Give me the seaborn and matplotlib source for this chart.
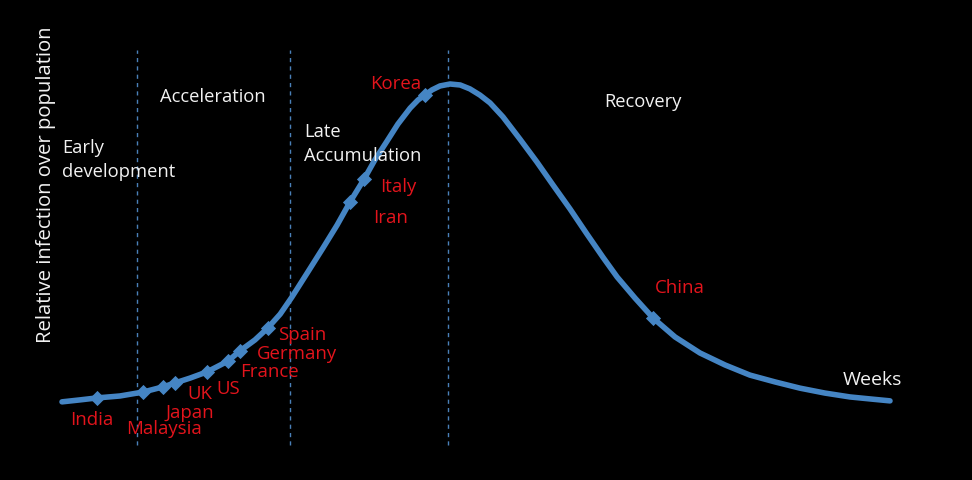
import matplotlib
matplotlib.use("Agg")
import matplotlib.pyplot as plt
import seaborn as sns
import pandas as pd

# Curve readings (weeks, relative infection)
weeks = [0.00, 0.50, 0.97, 1.61, 2.25, 2.81, 3.14, 3.56, 4.03, 4.61, 4.94, 5.36,
         5.72, 6.06, 6.39, 6.81, 7.25, 7.64, 8.00, 8.39, 8.69, 9.03, 9.33, 9.67,
         9.89, 10.08, 10.28, 10.50, 10.78, 11.06, 11.33, 11.61, 11.89, 12.25,
         12.72, 13.19, 13.64, 14.11, 14.58, 15.03, 15.42, 15.92, 16.42, 17.03,
         17.72, 18.42, 19.11, 19.81, 20.50, 21.19, 21.89, 22.44, 23.00]
infection = [0.025, 0.031, 0.037, 0.043, 0.055, 0.071, 0.083, 0.098, 0.117, 0.150,
             0.181, 0.215, 0.252, 0.294, 0.347, 0.420, 0.497, 0.567, 0.638, 0.708,
             0.767, 0.825, 0.877, 0.926, 0.951, 0.966, 0.982, 0.994, 1.000, 0.997,
             0.985, 0.966, 0.942, 0.899, 0.831, 0.761, 0.690, 0.617, 0.540, 0.468,
             0.408, 0.343, 0.282, 0.224, 0.175, 0.138, 0.107, 0.086, 0.067, 0.052,
             0.040, 0.034, 0.028]

# Countries on the curve
countries = ["India", "Malaysia", "Japan", "UK", "US", "France", "Germany", "Spain",
             "Iran", "Italy", "Korea", "China"]
country_weeks = [0.97, 2.25, 2.81, 3.14, 4.03, 4.61, 4.94, 5.72, 8.00, 8.39, 10.08, 16.42]
country_vals = [0.037, 0.055, 0.071, 0.083, 0.117, 0.150, 0.181, 0.252, 0.638, 0.708, 0.966, 0.282]

# Phase boundaries (weeks)
phase_bounds = [2.08, 6.33, 10.72]
phase_labels = ["Early\ndevelopment", "Acceleration", "Late\nAccumulation", "Recovery"]

curve = pd.DataFrame({"week": weeks, "infection": infection})
pts = pd.DataFrame({"country": countries, "week": country_weeks, "infection": country_vals})

sns.set_style("dark")
plt.rcParams["font.family"] = ["Open Sans", "DejaVu Sans"]

fig = plt.figure(figsize=(9.72, 4.8), dpi=100, facecolor="black")
ax = fig.add_axes([0, 0, 1, 1])
ax.set_facecolor("black")

BLUE = "#4585c4"
RED = "#e3141c"

for b in phase_bounds:
    ax.vlines(b, -0.107, 1.104, colors="#4a80b8", linestyles=(0, (3, 3)), linewidth=1.0)

sns.lineplot(data=curve, x="week", y="infection", ax=ax, color=BLUE, linewidth=4.0,
             solid_capstyle="round", solid_joinstyle="round", sort=False, estimator=None)
sns.scatterplot(data=pts, x="week", y="infection", ax=ax, color=BLUE, marker="D",
                s=60, edgecolor=BLUE, linewidth=0, zorder=5)

# label offsets in pixels (dx, dy) relative to markers
offsets = {"India": (-5, -22), "Malaysia": (21, -37), "Japan": (27, -26), "UK": (25, -11),
           "US": (21, -17), "France": (41, -11), "Germany": (57, -3), "Spain": (34, -7),
           "Iran": (41, -16), "Italy": (34, -8), "Korea": (-29, 11), "China": (27, 30)}
for c, wx, vy in zip(countries, country_weeks, country_vals):
    dx, dy = offsets[c]
    ax.annotate(c, (wx, vy), xytext=(dx, dy), textcoords="offset pixels",
                ha="center", va="center", color=RED, fontsize=13.4, zorder=6)

txt = dict(color="#f2f2f2", fontsize=13.2, va="center", ha="left", linespacing=1.45)
ax.text(0.0, 0.767, phase_labels[0], **txt)
ax.text(2.72, 0.960, phase_labels[1], **txt)
ax.text(6.72, 0.816, phase_labels[2], **txt)
ax.text(15.06, 0.945, phase_labels[3], **txt)
ax.text(21.69, 0.092, "Weeks", color="#f2f2f2", fontsize=14, va="center", ha="left")
ax.text(-0.44, 0.690, "Relative infection over population", color="#f2f2f2",
        fontsize=14.6, rotation=90, va="center", ha="center")

ax.set_xlim(-62 / 36, (972 - 62) / 36)
ax.set_ylim(-70 / 326, 410 / 326)
ax.set_xticks([])
ax.set_yticks([])
ax.set_xlabel("")
ax.set_ylabel("")
for s in ax.spines.values():
    s.set_visible(False)
ax.grid(False)

fig.savefig("out.png", dpi=100, facecolor="black")
